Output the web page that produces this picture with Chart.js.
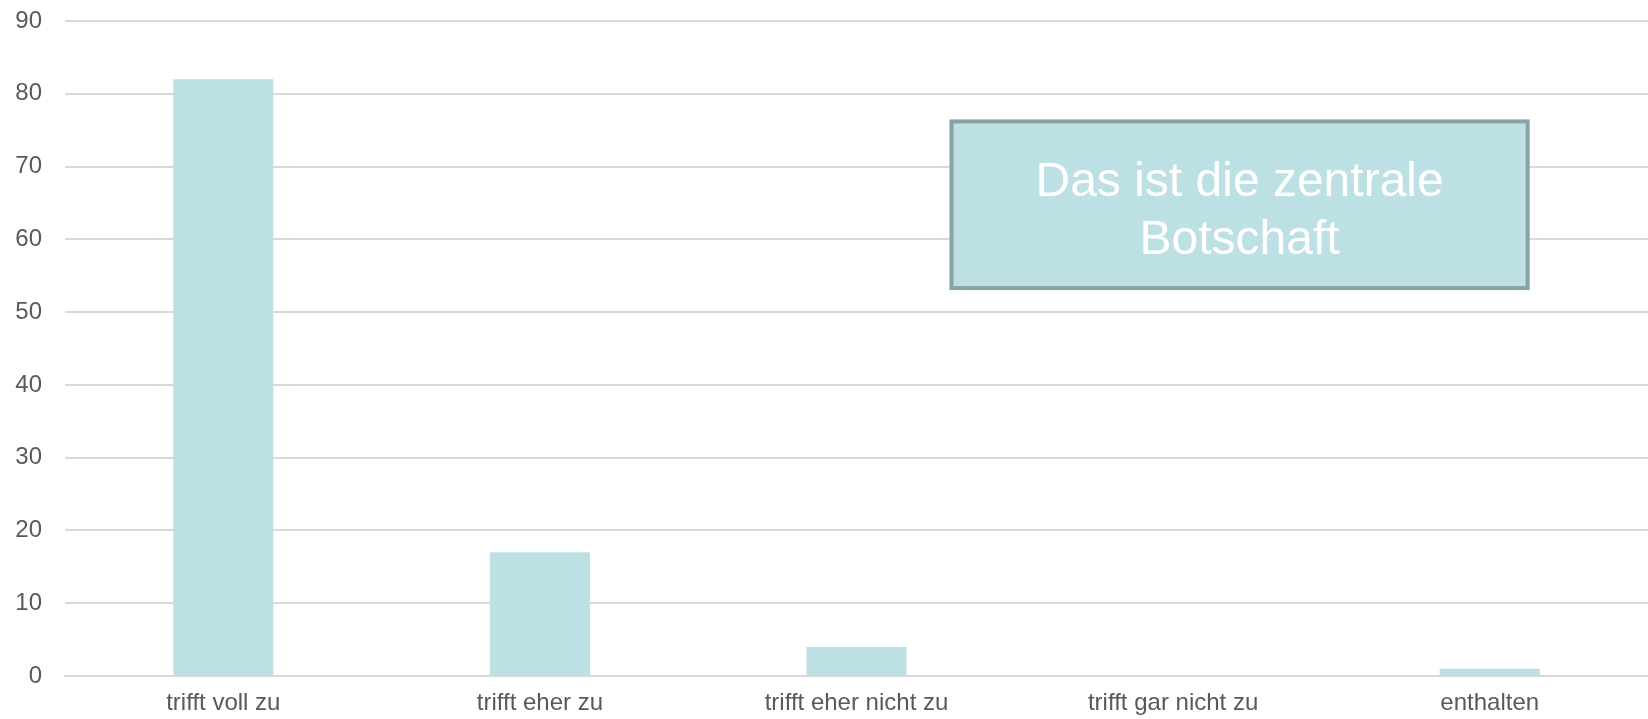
<!DOCTYPE html>
<html>
<head>
<meta charset="utf-8">
<script src="https://cdn.jsdelivr.net/npm/chart.js@4"></script>
<style>
    html, body { margin: 0; padding: 0; background: #ffffff; }
    #wrap { width: 1648px; height: 719px; }
</style>
</head>
<body>
<div id="wrap"><canvas id="chart" width="1648" height="719"></canvas></div>
<script>
// Chart data
const categories = ['trifft voll zu', 'trifft eher zu', 'trifft eher nicht zu', 'trifft gar nicht zu', 'enthalten'];
const votes = [82, 17, 4, 0, 1];
const calloutLines = ['Das ist die zentrale', 'Botschaft'];

// Callout box, placed in scale units (category index / value)
const calloutBox = { xFrom: 2.3, xTo: 4.12, yFrom: 76.2, yTo: 53.3 };

const calloutPlugin = {
    id: 'callout',
    afterDatasetsDraw(chart) {
        const ctx = chart.ctx;
        const x = chart.scales.x;
        const y = chart.scales.y;
        const left = x.getPixelForValue(calloutBox.xFrom);
        const right = x.getPixelForValue(calloutBox.xTo);
        const top = y.getPixelForValue(calloutBox.yFrom);
        const bottom = y.getPixelForValue(calloutBox.yTo);
        ctx.save();
        ctx.fillStyle = '#bce0e3';
        ctx.fillRect(left, top, right - left, bottom - top);
        ctx.strokeStyle = '#86a3a6';
        ctx.lineWidth = 4;
        ctx.strokeRect(left, top, right - left, bottom - top);
        ctx.fillStyle = '#ffffff';
        ctx.font = '48px "Liberation Sans", Arial, sans-serif';
        ctx.textAlign = 'center';
        ctx.textBaseline = 'middle';
        const cx = (left + right) / 2;
        const cy = (top + bottom) / 2 + 7;
        const lineH = 58;
        calloutLines.forEach(function(line, i) {
            ctx.fillText(line, cx, cy + (i - (calloutLines.length - 1) / 2) * lineH);
        });
        ctx.restore();
    }
};

const ctx = document.getElementById('chart').getContext('2d');
new Chart(ctx, {
    type: 'bar',
    data: {
        labels: categories,
        datasets: [{
            data: votes,
            backgroundColor: '#bce0e3',
            borderWidth: 0,
            categoryPercentage: 1,
            barPercentage: 0.316
        }]
    },
    options: {
        responsive: false,
        animation: false,
        layout: { padding: { top: 21, right: 0, left: 0, bottom: 0 } },
        plugins: {
            legend: { display: false },
            tooltip: { enabled: false }
        },
        scales: {
            x: {
                grid: { display: false },
                border: { color: '#d9d9d9', width: 2 },
                afterFit(scale) { scale.height = 43; },
                ticks: {
                    color: '#595959',
                    font: { family: '"Liberation Sans", Arial, sans-serif', size: 24 },
                    padding: 5,
                    maxRotation: 0
                }
            },
            y: {
                min: 0,
                max: 90,
                grid: { color: '#d9d9d9', lineWidth: 2, drawTicks: false },
                border: { display: false },
                afterFit(scale) { scale.width = 65; scale.paddingTop = 0; scale.paddingBottom = 0; },
                ticks: {
                    stepSize: 10,
                    color: '#595959',
                    font: { family: '"Liberation Sans", Arial, sans-serif', size: 24 },
                    padding: 23
                }
            }
        }
    },
    plugins: [calloutPlugin]
});
</script>
</body>
</html>
